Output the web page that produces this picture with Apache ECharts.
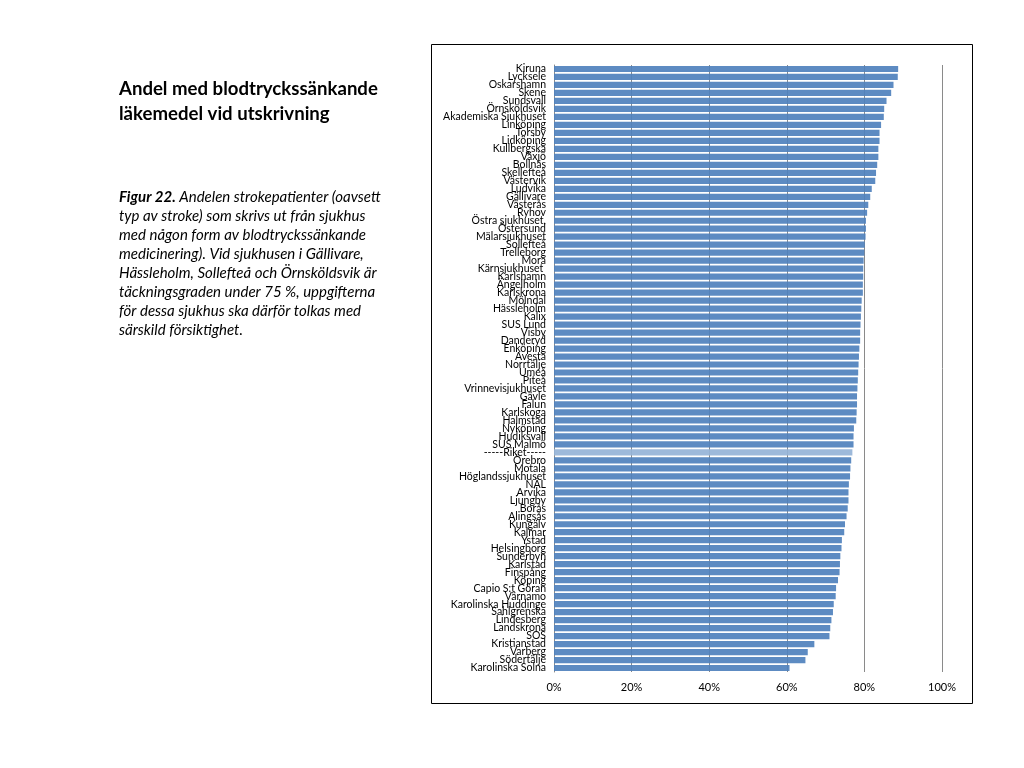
<!DOCTYPE html>
<html>
<head>
<meta charset="utf-8">
<script src="https://cdn.jsdelivr.net/npm/echarts@6/dist/echarts.min.js"></script>
<style>html,body{margin:0;padding:0;background:#fff}#c{width:1024px;height:768px}</style>
</head>
<body>
<div id="c"></div>
<script>
const categories = ["Kiruna","Lycksele","Oskarshamn","Skene","Sundsvall","Örnsköldsvik","Akademiska Sjukhuset","Linköping","Torsby","Lidköping","Kullbergska","Växjö","Bollnäs","Skellefteå","Västervik","Ludvika","Gällivare","Västerås","Ryhov","Östra sjukhuset,","Östersund","Mälarsjukhuset","Sollefteå","Trelleborg","Mora","Kärnsjukhuset ","Karlshamn","Ängelholm","Karlskrona","Mölndal","Hässleholm","Kalix","SUS Lund","Visby","Danderyd","Enköping","Avesta","Norrtälje","Umeå","Piteå","Vrinnevisjukhuset","Gävle","Falun","Karlskoga","Halmstad","Nyköping","Hudiksvall","SUS Malmö","-----Riket-----","Örebro","Motala","Höglandssjukhuset","NÄL","Arvika","Ljungby","Borås","Alingsås","Kungälv","Kalmar","Ystad","Helsingborg","Sunderbyn","Karlstad","Finspång","Köping","Capio S:t Göran","Värnamo","Karolinska Huddinge","Sahlgrenska","Lindesberg","Landskrona","SOS","Kristianstad","Varberg","Södertälje","Karolinska Solna"];
const values = [88.7,88.6,87.5,86.9,85.7,85.1,85.0,84.3,83.9,83.9,83.6,83.6,83.3,83.0,82.8,81.9,81.5,81.0,80.7,80.4,80.4,80.3,80.1,80.0,79.8,79.7,79.7,79.6,79.6,79.3,79.2,79.1,79.0,78.9,78.9,78.7,78.6,78.5,78.4,78.3,78.2,78.1,78.1,78.0,77.9,77.3,77.2,77.2,76.9,76.6,76.4,76.3,76.0,75.9,75.9,75.7,75.4,75.0,74.8,74.2,74.1,73.8,73.7,73.6,73.2,72.7,72.6,72.1,71.9,71.5,71.2,71.0,67.1,65.4,64.8,60.7];
const highlightCategory = "-----Riket-----";
const xTicks = [0,20,40,60,80,100];

const titleLines = ["Andel med blodtryckssänkande","läkemedel vid utskrivning"];
const captionLines = [
 ["Figur 22.", " Andelen strokepatienter (oavsett"],
 ["", "typ av stroke) som skrivs ut från sjukhus"],
 ["", "med någon form av blodtryckssänkande"],
 ["", "medicinering). Vid sjukhusen i Gällivare,"],
 ["", "Hässleholm, Sollefteå och Örnsköldsvik är"],
 ["", "täckningsgraden under 75 %, uppgifterna"],
 ["", "för dessa sjukhus ska därför tolkas med"],
 ["", "särskild försiktighet."]
];

const chart = echarts.init(document.getElementById('c'), null, {renderer:'canvas'});
const FONT = 'Lato, "Liberation Sans", sans-serif';

const graphics = [
 {type:'rect', shape:{x:431.5,y:44.5,width:541,height:659}, style:{fill:'none',stroke:'#000',lineWidth:1}, z:0}
];
titleLines.forEach((t,i)=>{
 graphics.push({type:'text', left:119, top:79+i*25, style:{text:t, font:'bold 18.6px '+FONT, fill:'#000'}});
});
captionLines.forEach((l,i)=>{
 graphics.push({type:'text', left:119, top:190+i*19, style:{
   text:(l[0]?'{b|'+l[0]+'}':'')+'{i|'+l[1]+'}',
   rich:{b:{fontFamily:FONT,fontSize:15,fontWeight:'bold',fontStyle:'italic',fill:'#000'},
         i:{fontFamily:FONT,fontSize:15,fontStyle:'italic',fill:'#000'}}
 }});
});

chart.setOption({
 animation:false,
 backgroundColor:'#fff',
 grid:{left:554, right:82, top:65, bottom:96, containLabel:false},
 xAxis:{type:'value', min:0, max:100, interval:20,
   axisLine:{show:false}, axisTick:{show:false},
   axisLabel:{formatter:v=>v+'%', fontFamily:FONT, fontSize:11, color:'#000', margin:10},
   splitLine:{show:true, lineStyle:{color:'#8a8a8a', width:1}}
 },
 yAxis:{type:'category', data:categories, inverse:true,
   axisLine:{show:true, lineStyle:{color:'#8a8a8a'}}, axisTick:{show:false},
   axisLabel:{interval:0, fontFamily:FONT, fontSize:10.5, color:'#000', margin:8, lineHeight:8}
 },
 series:[{type:'bar', barCategoryGap:'22%',
   data:values.map((v,i)=>({value:v, itemStyle:{color: categories[i]===highlightCategory ? '#95b3d7' : '#4f81bd'}})),
   itemStyle:{opacity:0.92}
 }],
 graphic:graphics
});
</script>
</body>
</html>
